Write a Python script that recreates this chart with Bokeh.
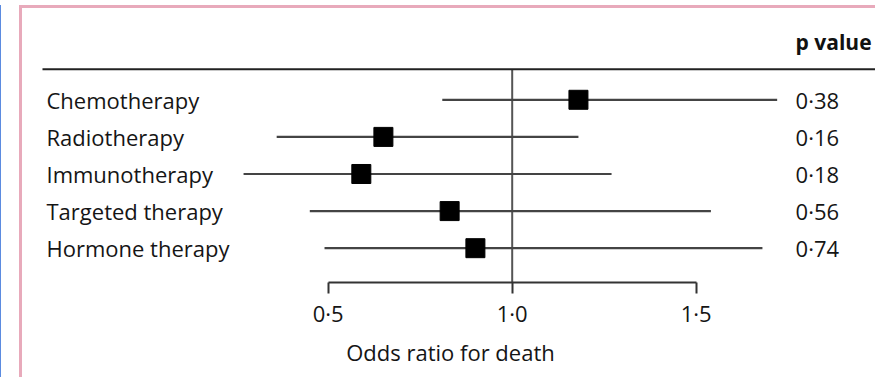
from bokeh.plotting import figure
from bokeh.models import Range1d, FixedTicker, LinearAxis, ColumnDataSource
from bokeh.core.properties import value
from bokeh.embed import file_html
from bokeh.resources import INLINE

# ---- data ----
treatments = ["Chemotherapy", "Radiotherapy", "Immunotherapy", "Targeted therapy", "Hormone therapy"]
odds_ratio = [1.18, 0.65, 0.59, 0.83, 0.90]
ci_lower = [0.81, 0.36, 0.27, 0.45, 0.49]
ci_upper = [1.72, 1.18, 1.27, 1.54, 1.68]
p_values = ["0·38", "0·16", "0·18", "0·56", "0·74"]
tick_values = [0.5, 1.0, 1.5]
tick_labels = ["0·5", "1·0", "1·5"]

FONT = "Open Sans"
FS = "22px"
TXT = "#151515"
PINK = "#E8AABB"
BLUE = "#5B8BE0"

rows = list(range(len(treatments)))
src = ColumnDataSource(dict(row=rows, name=treatments, orv=odds_ratio,
                            lo=ci_lower, hi=ci_upper, p=p_values))

W, H = 856, 372
FRAME_H = 274
x_start = -0.3307
x_end = x_start + W / 368.0
p = figure(width=W, height=H, output_backend="svg", toolbar_location=None,
           x_range=Range1d(x_start, x_end), y_range=Range1d(4.925, -2.461),
           min_border_left=0, min_border_right=0, min_border_top=0,
           min_border_bottom=H - FRAME_H, x_axis_location=None, y_axis_location=None)
p.grid.visible = False
p.outline_line_color = None
p.background_fill_color = "white"
p.border_fill_color = "white"
p.styles = {"border-left": f"3px solid {PINK}", "border-top": f"3px solid {PINK}",
            "margin-left": "19px", "margin-top": "5px",
            "box-shadow": f"-18px 0 0 0 white, -19px 0 0 0 {BLUE}"}

# x axis (odds ratio)
ax = LinearAxis(ticker=FixedTicker(ticks=tick_values), bounds=(0.5, 1.5),
                major_label_overrides={v: s for v, s in zip(tick_values, tick_labels)})
ax.axis_line_color = "#333333"
ax.axis_line_width = 2
ax.major_tick_line_color = "#333333"
ax.major_tick_line_width = 2
ax.major_tick_in = 0
ax.major_tick_out = 11
ax.minor_tick_line_color = None
ax.major_label_text_font = FONT
ax.major_label_text_font_size = FS
ax.major_label_text_color = TXT
ax.major_label_standoff = 4
ax.axis_label = "Odds ratio for death"
ax.axis_label_text_font = FONT
ax.axis_label_text_font_size = FS
ax.axis_label_text_font_style = "normal"
ax.axis_label_text_color = TXT
ax.axis_label_standoff = 6
p.add_layout(ax, "below")

# reference line at OR = 1
p.segment(x0=[1.0], y0=[-0.825], x1=[1.0], y1=[4.925], line_color="#555555", line_width=2)
# header rule
p.segment(x0=[-0.2764], y0=[-0.825], x1=[1.9927], y1=[-0.825], line_color="#222222", line_width=2)

# CIs and points
p.segment(x0="lo", y0="row", x1="hi", y1="row", source=src, line_color="#444444", line_width=2.2)
p.scatter(x="orv", y="row", source=src, marker="square", size=19,
          fill_color="black", line_color="black")

# labels
p.text(x=-0.2655, y="row", text="name", source=src, text_font=value(FONT),
       text_font_size=FS, text_color=TXT, text_baseline="middle", text_align="left")
p.text(x=1.770, y="row", text="p", source=src, text_font=value(FONT),
       text_font_size=FS, text_color=TXT, text_baseline="middle", text_align="left")
p.text(x=[1.770], y=[-1.545], text=["p value"], text_font=value(FONT),
       text_font_size="21px", text_font_style="bold", text_color="#111111",
       text_baseline="middle", text_align="left")

open("out.html", "w").write(file_html(p, INLINE))
